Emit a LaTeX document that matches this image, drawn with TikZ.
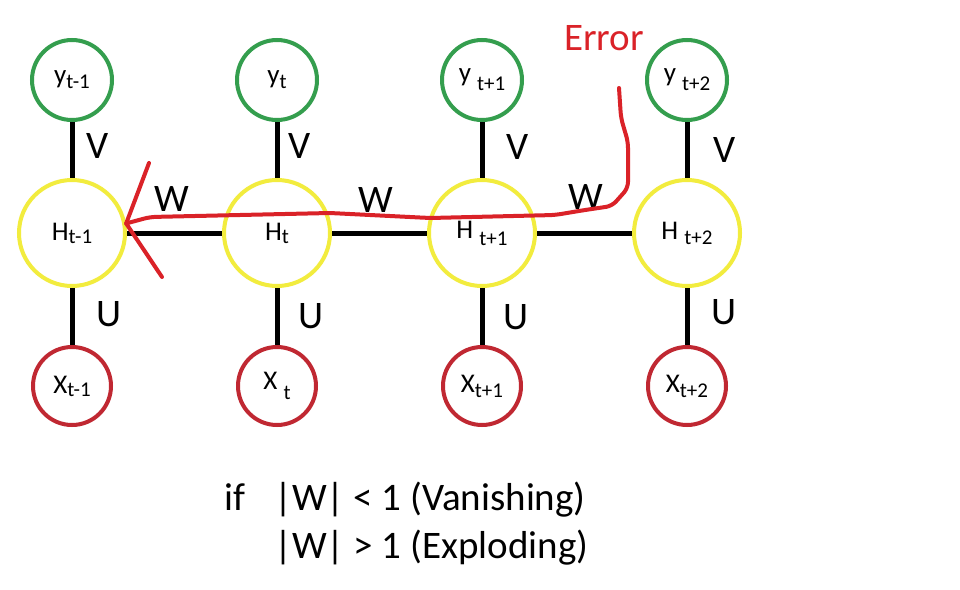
\documentclass[tikz,border=0pt]{standalone}
\usepackage{fontspec}
\setmainfont{Carlito}
\usepackage{tikz}
\usetikzlibrary{shapes, positioning}

\definecolor{ygreen}{RGB}{52,158,78}
\definecolor{hyellow}{RGB}{242,236,62}
\definecolor{xred}{RGB}{192,40,50}
\definecolor{errred}{RGB}{218,34,40}

\newcommand{\idx}[2][-3pt]{\raisebox{#1}{\fontsize{21}{21}\selectfont #2}}

\tikzset{
  ynode/.style={circle, draw=ygreen, line width=4pt, minimum size=80pt, inner sep=0pt, font=\fontsize{27}{27}\selectfont},
  hnode/.style={circle, draw=hyellow, line width=4pt, minimum size=106pt, inner sep=0pt, font=\fontsize{27}{27}\selectfont},
  xnode/.style={circle, draw=xred, line width=4pt, minimum size=78pt, inner sep=0pt, font=\fontsize{27}{27}\selectfont},
  link/.style={black, line width=5pt},
  wlbl/.style={font=\fontsize{39}{39}\selectfont, inner sep=0pt},
  errline/.style={draw=errred, line width=4pt, line cap=round, line join=round}
}

\begin{document}
\begin{tikzpicture}[x=1pt, y=-1pt]
\fill [white] (0,0) rectangle (960,589);
\useasboundingbox (0,0) rectangle (960,589);

\node [ynode] (y1) at (72,80) {y\idx[-5pt]{t-1}};
\node [ynode] (y2) at (277,80) {y\idx[-5pt]{t}};
\node [ynode] (y3) at (482,80) {y \idx[-9pt]{t+1}};
\node [ynode] (y4) at (687,80) {y \idx[-9pt]{t+2}};

\node [hnode] (h1) at (72,233) {H\idx{t-1}\hspace{22pt}};
\node [hnode] (h2) at (277,233) {H\idx{t}\hspace{14pt}};
\node [hnode] (h3) at (482,233) {H \idx[-7pt]{t+1}};
\node [hnode] (h4) at (687,233) {H \idx[-5pt]{t+2}};

\node [xnode] (x1) at (72,386) {X\idx{t-1}};
\node [xnode] (x2) at (277,386) {X \idx[-10pt]{t}};
\node [xnode] (x3) at (482,386) {X\idx[-5pt]{t+1}};
\node [xnode] (x4) at (687,386) {X\idx[-5pt]{t+2}};

\draw [link] (y1) -- (h1);
\draw [link] (y2) -- (h2);
\draw [link] (y3) -- (h3);
\draw [link] (y4) -- (h4);
\draw [link] (h1) -- (x1);
\draw [link] (h2) -- (x2);
\draw [link] (h3) -- (x3);
\draw [link] (h4) -- (x4);
\draw [link] (h1) -- (h2);
\draw [link] (h2) -- (h3);
\draw [link] (h3) -- (h4);

\node [wlbl] (v1) at (98,146) {V};
\node [wlbl] (v2) at (300,146) {V};
\node [wlbl] (v3) at (518,147) {V};
\node [wlbl] (v4) at (725,150) {V};
\node [wlbl] (u1) at (109,314) {U};
\node [wlbl] (u2) at (311,316) {U};
\node [wlbl] (u3) at (516,317) {U};
\node [wlbl] (u4) at (724,312) {U};
\node [wlbl] (w1) at (172,199) {W};
\node [wlbl] (w2) at (376,200) {W};
\node [wlbl] (w3) at (586,197) {W};

\node [wlbl, text=errred] (err) at (604,38) {Error};
\coordinate (errstart) at (619,88);
\draw [errline, rounded corners=6pt] (errstart) -- (621,118) -- (628,142) -- (628,188) -- (612,206) -- (585,210) -- (555,215) -- (430,218) -- (330,213) -- (150,217) -- (h1.10);
\draw [errline] (149,163) -- (h1.10) -- (162,277);

\node [wlbl, anchor=base west] (iftxt) at (224,510) {if};
\node [wlbl, anchor=base west] (vanish) at (274,510) {|W| < 1 (Vanishing)};
\node [wlbl, anchor=base west] (explode) at (274,558) {|W| > 1 (Exploding)};
\end{tikzpicture}
\end{document}
